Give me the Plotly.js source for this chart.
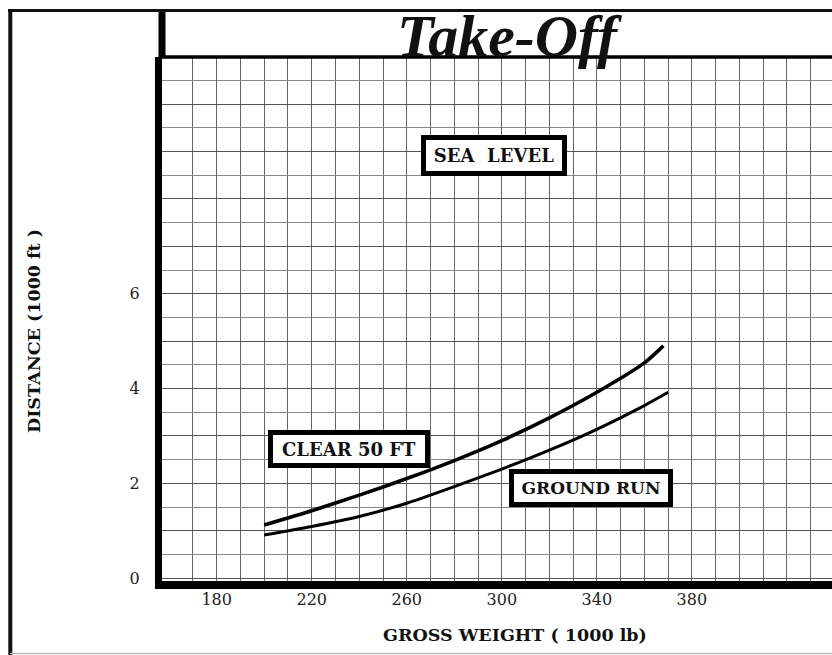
<!DOCTYPE html>
<html><head><meta charset="utf-8">
<script src="https://cdn.plot.ly/plotly-3.0.1.min.js"></script>
<style>html,body{margin:0;padding:0;background:#fff;} #chart{width:832px;height:655px;}</style>
</head><body><div id="chart"></div>
<script>
// ---- data ----
const seriesNames = ['CLEAR 50 FT', 'GROUND RUN'];
const clearX  = [200, 220, 240, 260, 280, 300, 320, 340, 360, 368];
const clearY  = [1.12, 1.42, 1.75, 2.10, 2.48, 2.90, 3.38, 3.92, 4.54, 4.90];
const groundX = [200, 220, 240, 260, 280, 300, 320, 340, 360, 370];
const groundY = [0.91, 1.09, 1.30, 1.58, 1.93, 2.30, 2.70, 3.14, 3.64, 3.92];

const xTickVals = [180, 220, 260, 300, 340, 380];
const xTickText = ['180', '220', '260', '300', '340', '380'];
const xGridVals = [170, 180, 190, 200, 210, 220, 230, 240, 250, 260, 270, 280, 290, 300,
                   310, 320, 330, 340, 350, 360, 370, 380, 390, 400, 410, 420, 430];
const yTickVals = [0, 1, 2, 3, 4, 5, 6, 7, 8, 9, 10];
const yTickText = ['0', '', '2', '', '4', '', '6', '', '', '', ''];
const yHalfGrid = [0.5, 1.5, 2.5, 3.5, 4.5, 5.5, 6.5, 7.5, 8.5, 9.5, 10.5];

const labelTexts = ['SEA\u00a0 LEVEL', 'CLEAR 50 FT', 'GROUND RUN'];
const labelX = [296.6, 235.8, 337.7];
const labelY = [8.915, 2.719, 1.895];

const chartTitle = 'Take-Off';
const xTitle = 'GROSS WEIGHT ( 1000 lb)';
const yTitle = 'DISTANCE (1000 ft )';

// ---- layout geometry ----
const W = 832, H = 655, L = 162, R = 0, T = 57, B = 74;
const pw = W - L - R, ph = H - T - B;
const pxX = v => (v - L) / pw;
const pxY = v => (H - B - v) / ph;

const serif = 'DejaVu Serif, Liberation Serif, serif';

const traces = [
  {x: clearX, y: clearY, name: seriesNames[0], mode: 'lines', type: 'scatter',
   line: {color: '#000', width: 3.6, shape: 'spline', smoothing: 0.6}},
  {x: groundX, y: groundY, name: seriesNames[1], mode: 'lines', type: 'scatter',
   line: {color: '#000', width: 3, shape: 'spline', smoothing: 0.6}}
];

const boxW = [136, 152, 154], boxH = [31, 28, 28], boxFont = [18, 18, 17];
const annotations = labelTexts.map((t, i) => ({
  text: t, x: labelX[i], y: labelY[i], xref: 'x', yref: 'y',
  xanchor: 'center', yanchor: 'middle', showarrow: false,
  width: boxW[i], height: boxH[i], bgcolor: '#fff',
  bordercolor: '#000', borderwidth: 5, borderpad: 0,
  font: {family: serif, size: boxFont[i], weight: 'bold', color: '#111'}
}));
annotations.push({
  text: xTitle, xref: 'paper', yref: 'paper', x: pxX(515), y: pxY(635),
  xanchor: 'center', yanchor: 'middle', showarrow: false,
  font: {family: serif, size: 17.5, weight: 'bold', color: '#111'}
});
annotations.push({
  text: yTitle, xref: 'paper', yref: 'paper', x: pxX(34), y: pxY(331),
  xanchor: 'center', yanchor: 'middle', showarrow: false, textangle: -90,
  font: {family: serif, size: 17.5, weight: 'bold', color: '#111'}
});

const shapes = [
  // top edge of the plot
  {type: 'line', xref: 'paper', yref: 'paper', x0: 0, x1: 1, y0: 1, y1: 1, line: {color: '#000', width: 3.5}},
  // left axis line extended up to the frame
  {type: 'line', xref: 'paper', yref: 'paper', x0: 0, x1: 0, y0: 1, y1: pxY(9), line: {color: '#000', width: 7}},
  // outer frame
  {type: 'line', xref: 'paper', yref: 'paper', x0: pxX(8), x1: 1, y0: pxY(10.5), y1: pxY(10.5), line: {color: '#111', width: 3}},
  {type: 'line', xref: 'paper', yref: 'paper', x0: pxX(10.3), x1: pxX(10.3), y0: pxY(9), y1: pxY(655), line: {color: '#111', width: 4}},
  {type: 'line', xref: 'paper', yref: 'paper', x0: pxX(10), x1: 1, y0: pxY(653.5), y1: pxY(653.5), line: {color: '#bbb', width: 1.5}}
];

const layout = {
  width: W, height: H,
  margin: {l: L, r: R, t: T, b: B, pad: 0},
  paper_bgcolor: '#fff', plot_bgcolor: '#fff',
  showlegend: false,
  title: {
    text: chartTitle,
    font: {family: 'Liberation Serif, serif', size: 60, weight: 'bold', style: 'italic', color: '#111'},
    xref: 'container', x: 507 / W, xanchor: 'center',
    yref: 'container', y: 1 - 56 / H, yanchor: 'bottom'
  },
  xaxis: {
    range: [156.98, 438.97], tickmode: 'array', tickvals: xTickVals, ticktext: xTickText,
    showgrid: true, gridcolor: '#666', gridwidth: 1,
    minor: {tickmode: 'array', tickvals: xGridVals, showgrid: true, gridcolor: '#666', gridwidth: 1},
    showline: true, linecolor: '#000', linewidth: 8, zeroline: false,
    ticks: '', ticklabelstandoff: -3,
    tickfont: {family: serif, size: 16, color: '#222'}, fixedrange: true
  },
  yaxis: {
    range: [-0.061, 10.994], tickmode: 'array', tickvals: yTickVals, ticktext: yTickText,
    showgrid: true, gridcolor: '#555', gridwidth: 1,
    minor: {tickmode: 'array', tickvals: yHalfGrid, showgrid: true, gridcolor: '#8a8a8a', gridwidth: 1},
    showline: true, linecolor: '#000', linewidth: 7, zeroline: false,
    ticks: 'outside', ticklen: 12, tickcolor: 'rgba(0,0,0,0)',
    tickfont: {family: serif, size: 16, color: '#222'}, fixedrange: true
  },
  annotations: annotations,
  shapes: shapes
};

Plotly.newPlot('chart', traces, layout, {staticPlot: true, displayModeBar: false});
</script></body></html>
